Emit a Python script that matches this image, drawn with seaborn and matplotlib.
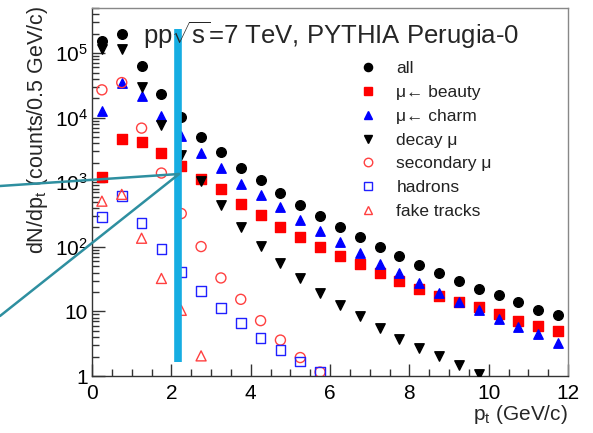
import numpy as np
import pandas as pd
import matplotlib
matplotlib.use("Agg")
import matplotlib.pyplot as plt
from matplotlib.lines import Line2D
from matplotlib.ticker import FixedLocator, LogLocator, FuncFormatter, MultipleLocator, NullFormatter
import seaborn as sns

# ---------------- data ----------------
pt = [0.25, 0.75, 1.25, 1.75, 2.25, 2.75, 3.25, 3.75, 4.25, 4.75, 5.25, 5.75,
      6.25, 6.75, 7.25, 7.75, 8.25, 8.75, 9.25, 9.75, 10.25, 10.75, 11.25, 11.75]

all_mu = [1.55e5, 2.0e5, 6.3e4, 2.3e4, 1.04e4, 5.0e3, 2.96e3, 1.66e3, 1.09e3, 680, 442, 298,
          203, 140, 100, 72, 52, 40, 29.7, 22.6, 17.8, 13.8, 10.7, 8.7]
beauty = [1210, 4700, 4170, 2800, 1800, 1140, 780, 465, 308, 205, 141, 101,
          72, 53.6, 39.7, 29.7, 22.6, 17.1, 14.0, 11.7, 9.0, 7.2, 5.9, 4.9]
charm = [1.27e4, 3.5e4, 2.2e4, 1.05e4, 5.2e3, 2.8e3, 1.66e3, 930, 625, 410, 265, 178,
         118, 80, 54, 38.9, 27.7, 19.3, 14.1, 10.4, 7.7, 5.8, 4.4, 3.3]
decay = [1.17e5, 1.17e5, 3.0e4, 7.6e3, 2.6e3, 1050, 438, 203, 104, 57, 32.4, 19.3,
         12.4, 8.35, 5.5, 3.7, 2.7, 2.05, 1.49, 1.06]
secondary = [2.7e4, 3.5e4, 6.9e3, 1390, 328, 101, 33, 15.4, 7.2, 3.6, 1.93, 1.15]
hadrons = [290, 612, 234, 93, 41, 20.5, 11.3, 6.6, 3.9, 2.5, 1.67, 1.15]
fake = [510, 650, 136, 32.4, 10.4, 2.05]

labels = ["all", "\u03bc\u2190 beauty", "\u03bc\u2190 charm", "decay \u03bc",
          "secondary \u03bc", "hadrons", "fake tracks"]
series = [all_mu, beauty, charm, decay, secondary, hadrons, fake]

x_ticks = [0, 2, 4, 6, 8, 10, 12]
y_ticks = [1, 10, 100, 1e3, 1e4, 1e5]
title = r"pp$\sqrt{\mathrm{s}}$=7 TeV, PYTHIA Perugia-0"

# ---------------- style ----------------
sns.set_style("ticks")
plt.rcParams["font.family"] = ["Liberation Sans", "DejaVu Sans"]
plt.rcParams["mathtext.fontset"] = "custom"
plt.rcParams["mathtext.rm"] = "Liberation Sans"
plt.rcParams["mathtext.it"] = "Liberation Sans:italic"
plt.rcParams["mathtext.bf"] = "Liberation Sans:bold"
plt.rcParams.update({
    "xtick.bottom": True, "xtick.top": False, "ytick.left": True, "ytick.right": False,
    "xtick.direction": "in", "ytick.direction": "in",
    "xtick.major.size": 9, "ytick.major.size": 9,
    "xtick.minor.size": 5, "ytick.minor.size": 5,
    "xtick.major.width": 1, "ytick.major.width": 1,
    "xtick.minor.width": 1, "ytick.minor.width": 1,
    "xtick.color": "#333333", "ytick.color": "#333333",
    "xtick.labelcolor": "black", "ytick.labelcolor": "black",
})

styles = [
    dict(marker="o", color="black", filled=True, s=48),
    dict(marker="s", color="#ff0000", filled=True, s=42),
    dict(marker="^", color="#0000ff", filled=True, s=46),
    dict(marker="v", color="black", filled=True, s=46),
    dict(marker="o", color="#ff4040", filled=False, s=52),
    dict(marker="s", color="#2020ff", filled=False, s=48),
    dict(marker="^", color="#ff4040", filled=False, s=52),
]

W, H = 593, 433
fig = plt.figure(figsize=(W / 100, H / 100), dpi=100)
ax = fig.add_axes([92 / W, 1 - 376 / H, (568 - 92) / W, (376 - 8) / H])

handles = []
for lab, vals, st in zip(labels, series, styles):
    df = pd.DataFrame({"pt": pt[:len(vals)], "n": vals})
    kw = dict(marker=st["marker"], s=st["s"], color=st["color"], edgecolor=st["color"],
              linewidth=1.0, ax=ax, legend=False, zorder=3)
    if not st["filled"]:
        kw["facecolor"] = "none"
    sns.scatterplot(data=df, x="pt", y="n", **kw)
    handles.append(Line2D([], [], linestyle="none", marker=st["marker"],
                          markersize=np.sqrt(st["s"]) * 0.85,
                          markerfacecolor=st["color"] if st["filled"] else "none",
                          markeredgecolor=st["color"], markeredgewidth=1.0))

ax.set_yscale("log")
ax.set_xlim(0, 12)
ax.set_ylim(1, 5e5)

ax.xaxis.set_major_locator(FixedLocator(x_ticks))
ax.xaxis.set_minor_locator(MultipleLocator(0.5))
ax.yaxis.set_major_locator(FixedLocator(y_ticks))
ax.yaxis.set_minor_locator(LogLocator(base=10, subs=np.arange(2, 10), numticks=20))
ax.yaxis.set_minor_formatter(NullFormatter())


def yfmt(v, pos):
    if v < 1.5:
        return "1"
    if v < 15:
        return "10"
    return r"$10^{%d}$" % int(round(np.log10(v)))


ax.yaxis.set_major_formatter(FuncFormatter(yfmt))
ax.xaxis.set_major_formatter(FuncFormatter(lambda v, p: "%d" % v))

ax.tick_params(axis="both", which="major", direction="in", length=9, width=1,
               labelsize=15, color="#333333", top=False, right=False,
               bottom=True, left=True)
ax.tick_params(axis="both", which="minor", direction="in", length=5, width=1,
               color="#333333", top=False, right=False, bottom=True, left=True)
ax.tick_params(axis="x", which="major", pad=6)
ax.tick_params(axis="y", which="major", pad=3)

for side in ["left", "bottom"]:
    ax.spines[side].set_color("#333333")
    ax.spines[side].set_linewidth(1.0)
for side in ["top", "right"]:
    ax.spines[side].set_visible(True)
    ax.spines[side].set_color("#888888")
    ax.spines[side].set_linewidth(1.0)

ax.set_xlabel("")
ax.set_ylabel("")
fig.text(568 / W, 1 - 415 / H, r"p$_{\rm t}$ (GeV/c)", ha="right", va="center", fontsize=15)
fig.text(38 / W, 1 - 6 / H, r"dN/dp$_{\rm t}$ (counts/0.5 GeV/c)", rotation=90,
         ha="center", va="top", fontsize=15.5)

fig.text(143 / W, 1 - 44 / H, title, ha="left", va="baseline", fontsize=18.5)

leg = ax.legend(handles, labels, loc="upper left", bbox_to_anchor=(359 / W, 1 - 61 / H),
                bbox_transform=fig.transFigure, frameon=False, fontsize=12.5,
                handlelength=1.0, handletextpad=1.15, labelspacing=0.5,
                borderpad=0, borderaxespad=0)
for t in leg.get_texts():
    t.set_color("#222222")

# ---------------- annotation overlays ----------------
ax.axvline(2.18, ymin=0.039, ymax=0.942, color="#16ade2", linewidth=5.5, zorder=5,
           solid_capstyle="butt")
fig.add_artist(Line2D([0, 179 / W], [1 - 186 / H, 1 - 174 / H], transform=fig.transFigure,
                      color="#2e8fa0", linewidth=1.8, zorder=6))
fig.add_artist(Line2D([0, 179 / W], [1 - 316 / H, 1 - 174 / H], transform=fig.transFigure,
                      color="#2e8fa0", linewidth=1.8, zorder=6))

fig.savefig("out.png", dpi=100)
